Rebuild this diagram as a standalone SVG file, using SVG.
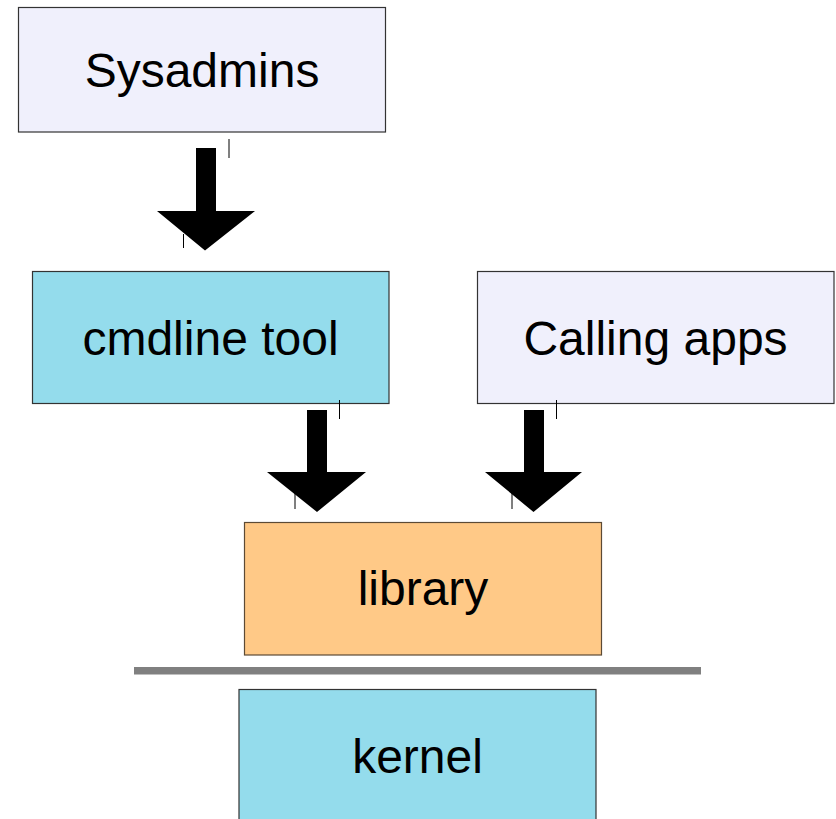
<svg xmlns="http://www.w3.org/2000/svg" width="836" height="819" viewBox="0 0 836 819">
<style>
.box{stroke:#333;stroke-width:1.2}
.lav{fill:#f0f0fc}
.cyan{fill:#94dcec}
.orange{fill:#ffc987;stroke:#5c4a35}
.lbl{font-family:"Liberation Sans",Arial,sans-serif;font-size:48px;fill:#000;text-anchor:middle}
.arrow{fill:#000}
.tick{stroke:#000;stroke-width:1}
</style>
<rect width="836" height="819" fill="#fff"/>
<g id="sysadmins">
<rect class="box lav" x="18.5" y="7.5" width="367" height="124.5"/>
<text class="lbl" x="202" y="87">Sysadmins</text>
</g>
<g id="cmdline">
<rect class="box cyan" x="32.5" y="271.5" width="356.5" height="132"/>
<text class="lbl" x="210.5" y="355">cmdline tool</text>
</g>
<g id="calling">
<rect class="box lav" x="477.5" y="271.5" width="356.5" height="132"/>
<text class="lbl" x="655.5" y="355">Calling apps</text>
</g>
<g id="library">
<rect class="box orange" x="244.5" y="522.5" width="357" height="132.5"/>
<text class="lbl" x="423" y="605">library</text>
</g>
<g id="kernel">
<rect class="box cyan" x="239" y="689.5" width="357" height="140"/>
<text class="lbl" x="417.5" y="773">kernel</text>
</g>
<g id="connectors">
<polygon class="arrow" points="196,148 216,148 216,211 255,211 205,250.5 157,211 196,211"/>
<line class="tick" x1="229" y1="139" x2="229" y2="158"/>
<line class="tick" x1="183.5" y1="234" x2="183.5" y2="248"/>
<polygon class="arrow" points="307,410 327,410 327,472 366,472 317,512 267,472 307,472"/>
<line class="tick" x1="339.5" y1="400" x2="339.5" y2="419"/>
<line class="tick" x1="295" y1="493" x2="295" y2="509"/>
<polygon class="arrow" points="524,410 544,410 544,472 582,472 533.5,512 485,472 524,472"/>
<line class="tick" x1="556.5" y1="400" x2="556.5" y2="419"/>
<line class="tick" x1="512" y1="493" x2="512" y2="509"/>
<rect x="134" y="667" width="567" height="7.5" fill="#808080"/>
</g>
</svg>
